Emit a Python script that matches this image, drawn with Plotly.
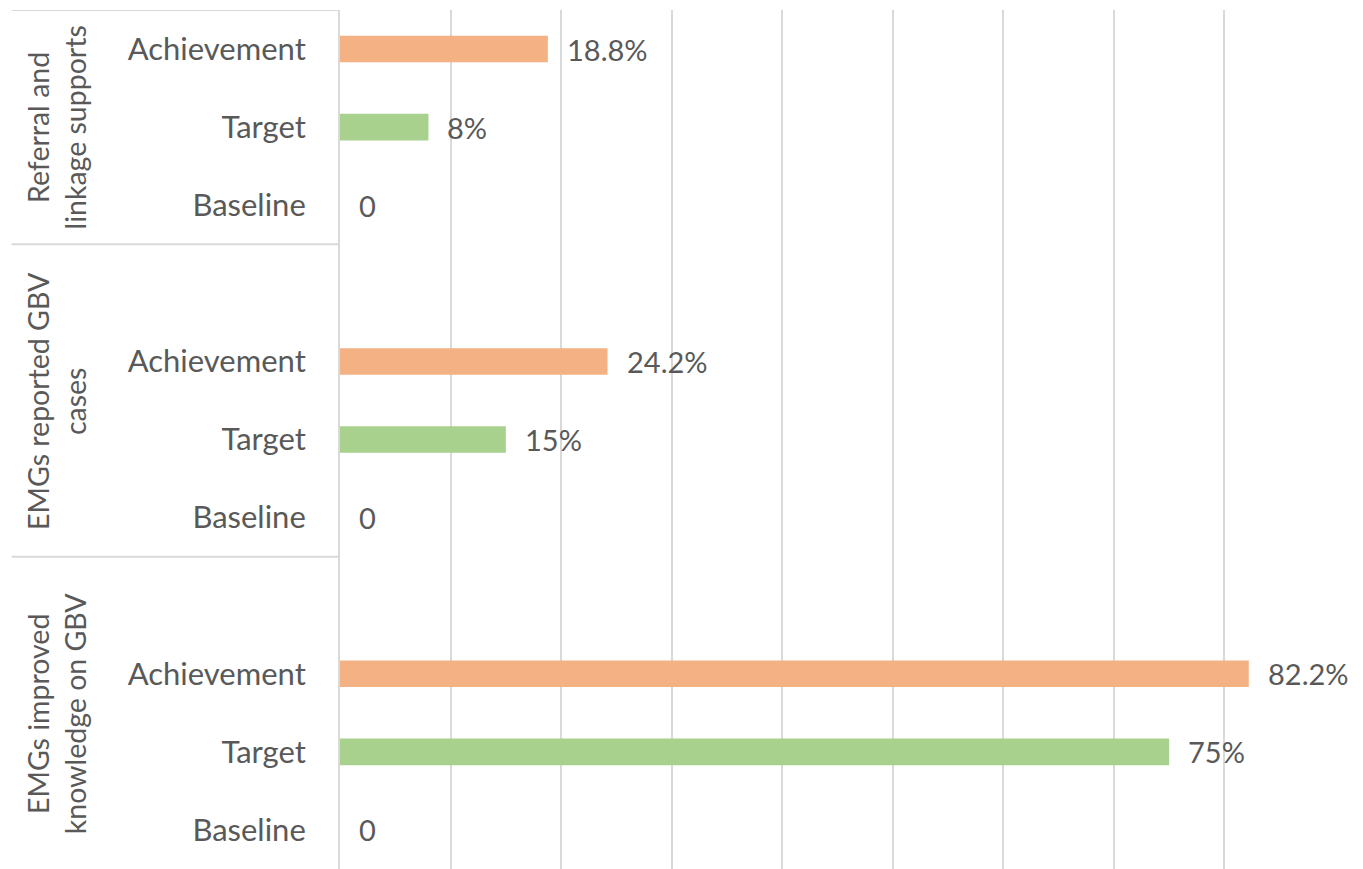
import plotly.graph_objects as go

# groups, bottom to top (as plotted)
groups = ["EMGs improved<br>knowledge on GBV", "EMGs reported GBV<br>cases", "Referral and<br>linkage supports"]
measures = ["Baseline", "Target", "Achievement"]

baseline = [0, 0, 0]
target = [75, 15, 8]
achievement = [82.2, 24.2, 18.8]

baseline_text = ["0", "0", "0"]
target_text = ["75%", "15%", "8%"]
achievement_text = ["82.2%", "24.2%", "18.8%"]

FONT = "Lato"
GREY = "#595959"
LINE = "#d9d9d9"

# one category per bar slot, plus an empty spacer slot above each group
cats = []
tick_text = []
for i, g in enumerate(groups):
    for m in measures:
        cats.append(f"g{i}|{m}")
        tick_text.append(m)
    cats.append(f"g{i}|")
    tick_text.append("")

Y_RANGE = [-0.5, 10.5]


def ids(measure):
    return [f"g{i}|{measure}" for i in range(len(groups))]


fig = go.Figure()
series = [
    ("Baseline", baseline, baseline_text, "#9dc3e6"),
    ("Target", target, target_text, "#A9D18E"),
    ("Achievement", achievement, achievement_text, "#F4B183"),
]
for name, vals, _, color in series:
    fig.add_trace(go.Bar(
        y=ids(name), x=vals, orientation="h", name=name,
        marker=dict(color=color, line=dict(width=0)), width=0.34,
    ))

annotations = []
for name, vals, texts, _ in series:
    for yy, xx, tt in zip(ids(name), vals, texts):
        annotations.append(dict(
            x=xx, y=yy, xref="x", yref="y", text=tt, showarrow=False,
            xanchor="left", xshift=17, font=dict(family=FONT, size=29, color=GREY),
        ))

# rotated group labels on the left (centre of each group's block, in paper units)
span = Y_RANGE[1] - Y_RANGE[0]
for i, g in enumerate(groups):
    centre = min(4 * i + 1.5, 9)
    annotations.append(dict(
        x=-0.285, xref="paper", y=(centre - Y_RANGE[0]) / span, yref="paper",
        text=g, showarrow=False,
        textangle=-90, align="center", xanchor="center", yanchor="middle",
        font=dict(family=FONT, size=28.5, color=GREY),
    ))

shapes = []
for yv in [3.5, 7.5, 10.5]:
    shapes.append(dict(type="line", xref="paper", yref="y", x0=-0.33, x1=0, y0=yv, y1=yv,
                       line=dict(color=LINE, width=2)))

# page body adds 8px on the left and top, so the figure is 8px smaller
fig.update_layout(
    width=1355, height=861,
    margin=dict(l=332, r=28, t=2, b=0, autoexpand=False),
    paper_bgcolor="white", plot_bgcolor="white",
    barmode="overlay", showlegend=False,
    annotations=annotations, shapes=shapes,
    font=dict(family=FONT, color=GREY),
)
fig.update_xaxes(range=[0, 90], dtick=10, showgrid=True, gridcolor=LINE, gridwidth=2,
                 showticklabels=False, zeroline=False, showline=False, fixedrange=True)
fig.update_yaxes(type="category", categoryorder="array", categoryarray=cats,
                 tickvals=cats, ticktext=tick_text, range=Y_RANGE,
                 showline=True, linecolor=LINE, linewidth=2, showgrid=False,
                 ticks="", ticklabelstandoff=26, automargin=False,
                 tickfont=dict(family=FONT, size=31, color=GREY))

fig.write_html("out.html")
